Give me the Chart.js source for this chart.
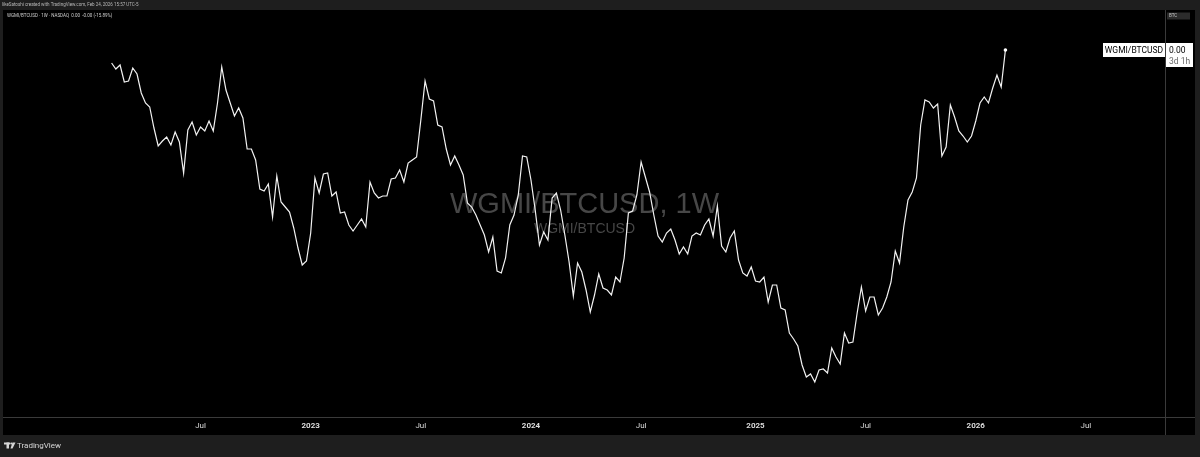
<!DOCTYPE html>
<html>
<head>
<meta charset="utf-8">
<script src="https://cdn.jsdelivr.net/npm/chart.js@4.4.1/dist/chart.umd.min.js"></script>
<style>
  html, body { margin: 0; padding: 0; background: #1e1e1e; }
  #wrap { width: 1200px; height: 457px; position: relative; }
  canvas { display: block; }
</style>
</head>
<body>
<div id="wrap"><canvas id="c" width="1200" height="457"></canvas></div>
<script>
// ---- data (weekly closes, relative units: the price scale only shows 0.00) ----
const symbol = 'WGMI/BTCUSD';
const firstWeek = '2022-02-07';
const ratio = [
  415,409,413,396,397,410,404,385,375,371,
  350,332,337,341,333,346,336,305,348,356,
  343,351,347,357,347,375,411,388,375,362,
  370,360,329,329,318,289,287,294,261,302,
  276,271,266,250,230,213,217,245,300,285,
  304,305,282,286,265,266,253,247,253,259,
  251,296,285,280,282,282,299,300,308,296,
  315,318,321,358,397,379,377,353,351,329,
  313,322,313,303,275,271,263,253,243,226,
  241,207,205,220,253,263,283,322,321,298,
  268,233,246,238,280,285,268,243,216,182,
  215,206,188,166,183,204,190,188,183,201,
  196,220,265,267,283,316,301,286,263,242,
  236,245,249,238,224,231,224,242,245,243,
  253,259,242,272,232,226,240,247,218,205,
  202,211,197,196,201,176,193,193,170,168,
  145,139,132,113,101,104,96,108,109,105,
  130,121,114,145,135,136,165,191,167,181,
  181,163,170,181,196,227,215,251,278,286,
  300,353,378,376,370,374,322,331,373,361,
  347,342,336,342,357,375,381,375,390,403,
  391,428
];
const tickDates = ['2022-07-04','2023-01-02','2023-07-03','2024-01-01','2024-07-01','2025-01-06','2025-07-07','2026-01-05','2026-07-06'];
const tickLabels = ['Jul','2023','Jul','2024','Jul','2025','Jul','2026','Jul'];

// ---- helpers ----
function dayOf(s) {
  const [y, m, d] = s.split('-').map(Number);
  const [y0, m0, d0] = firstWeek.split('-').map(Number);
  return Math.round((Date.UTC(y, m - 1, d) - Date.UTC(y0, m0 - 1, d0)) / 86400000);
}
const points = ratio.map((v, i) => ({ x: i * 7, y: v }));
const tickDays = tickDates.map(dayOf);
const lastIdx = ratio.length - 1;

const FONT = 'Roboto, "Liberation Sans", Arial, sans-serif';

const framePlugin = {
  id: 'frame',
  beforeDraw(chart) {
    const ctx = chart.ctx;
    ctx.save();
    ctx.fillStyle = '#1e1e1e';
    ctx.fillRect(0, 0, chart.width, chart.height);
    ctx.fillStyle = '#000000';
    ctx.fillRect(3, 10, 1192, 425);
    // header
    ctx.fillStyle = '#b8b8b8';
    ctx.font = '4.5px ' + FONT;
    ctx.textBaseline = 'middle';
    ctx.textAlign = 'left';
    ctx.fillText('likeSatoshi created with TradingView.com, Feb 24, 2026 15:57 UTC-5', 2, 5);
    ctx.fillStyle = '#cfcfcf';
    ctx.fillText('WGMI/BTCUSD · 1W · NASDAQ  0.00  -0.00 (-15.89%)', 7, 15.5);
    // bottom logo
    ctx.fillStyle = '#d6d6d6';
    ctx.fillRect(4, 442.5, 6, 2);
    ctx.fillRect(6.5, 442.5, 2.5, 6);
    ctx.beginPath(); ctx.arc(11.3, 443.5, 1.1, 0, Math.PI * 2); ctx.fill();
    ctx.beginPath(); ctx.moveTo(12.5, 442.5); ctx.lineTo(15.5, 442.5); ctx.lineTo(12.5, 448.5); ctx.lineTo(10.5, 448.5); ctx.closePath(); ctx.fill();
    ctx.font = '8px ' + FONT;
    ctx.fillText('TradingView', 17, 445.5);
    ctx.restore();
  },
  beforeDatasetsDraw(chart) {
    const ctx = chart.ctx, a = chart.chartArea;
    const cx = (a.left + a.right) / 2;
    ctx.save();
    ctx.fillStyle = '#474747';
    ctx.textAlign = 'center';
    ctx.textBaseline = 'alphabetic';
    ctx.font = '29px "Liberation Sans", Arial, sans-serif';
    ctx.fillText(symbol + ', 1W', cx, 213);
    ctx.font = '14px "Liberation Sans", Arial, sans-serif';
    ctx.fillText(symbol, cx, 233);
    ctx.restore();
  },
  afterDraw(chart) {
    const ctx = chart.ctx, a = chart.chartArea;
    const ys = chart.scales.y;
    ctx.save();
    ctx.strokeStyle = '#3a3a3a';
    ctx.lineWidth = 1;
    ctx.beginPath();
    ctx.moveTo(a.right + 0.5, 10); ctx.lineTo(a.right + 0.5, 435);
    ctx.moveTo(3, a.bottom + 0.5); ctx.lineTo(1195, a.bottom + 0.5);
    ctx.stroke();
    // BTC box
    ctx.fillStyle = '#2b2b2b';
    ctx.fillRect(a.right + 2, 12.5, 23, 7);
    ctx.fillStyle = '#c8c8c8';
    ctx.font = '4.5px ' + FONT;
    ctx.textBaseline = 'middle';
    ctx.textAlign = 'left';
    ctx.fillText('BTC', a.right + 4, 16);
    // last value labels
    const yl = ys.getPixelForValue(ratio[lastIdx]);
    ctx.fillStyle = '#ffffff';
    ctx.fillRect(a.right - 62, yl - 7, 62, 14);
    ctx.fillRect(a.right + 1, yl - 7, 27, 24);
    ctx.fillStyle = '#000000';
    ctx.font = '8.5px ' + FONT;
    ctx.textAlign = 'center';
    ctx.fillText(symbol, a.right - 31, yl + 0.5);
    ctx.textAlign = 'left';
    ctx.fillText('0.00', a.right + 4, yl + 0.5);
    ctx.fillStyle = '#6a6a6a';
    ctx.fillText('3d 1h', a.right + 4, yl + 11.5);
    ctx.restore();
  }
};

new Chart(document.getElementById('c'), {
  type: 'line',
  data: {
    datasets: [{
      label: symbol,
      data: points,
      borderColor: '#f2f2f2',
      borderWidth: 1.2,
      tension: 0,
      pointRadius: ctx => ctx.dataIndex === lastIdx ? 1.8 : 0,
      pointBackgroundColor: '#ffffff',
      pointBorderWidth: 0,
      fill: false
    }]
  },
  options: {
    responsive: false,
    animation: false,
    devicePixelRatio: 1,
    layout: { padding: { left: 3, right: 5, top: 10, bottom: 22 } },
    plugins: { legend: { display: false }, tooltip: { enabled: false } },
    scales: {
      x: {
        type: 'linear',
        min: -177.8,
        max: 1740.7,
        grid: { display: false, drawTicks: false },
        border: { display: false },
        afterBuildTicks: s => { s.ticks = tickDays.map(v => ({ value: v })); },
        afterFit: s => { s.height = 18; },
        ticks: {
          autoSkip: false,
          maxRotation: 0,
          padding: 4,
          color: '#dcdcdc',
          callback: (v, i) => tickLabels[i],
          font: ctx => ({ family: FONT, size: 8, weight: /^\d{4}$/.test(tickLabels[ctx.index] || '') ? 'bold' : 'normal' })
        }
      },
      y: {
        type: 'linear',
        position: 'right',
        min: 61,
        max: 468,
        grid: { display: false, drawTicks: false },
        border: { display: false },
        ticks: { display: false },
        afterFit: s => { s.width = 30; }
      }
    }
  },
  plugins: [framePlugin]
});
</script>
</body>
</html>
